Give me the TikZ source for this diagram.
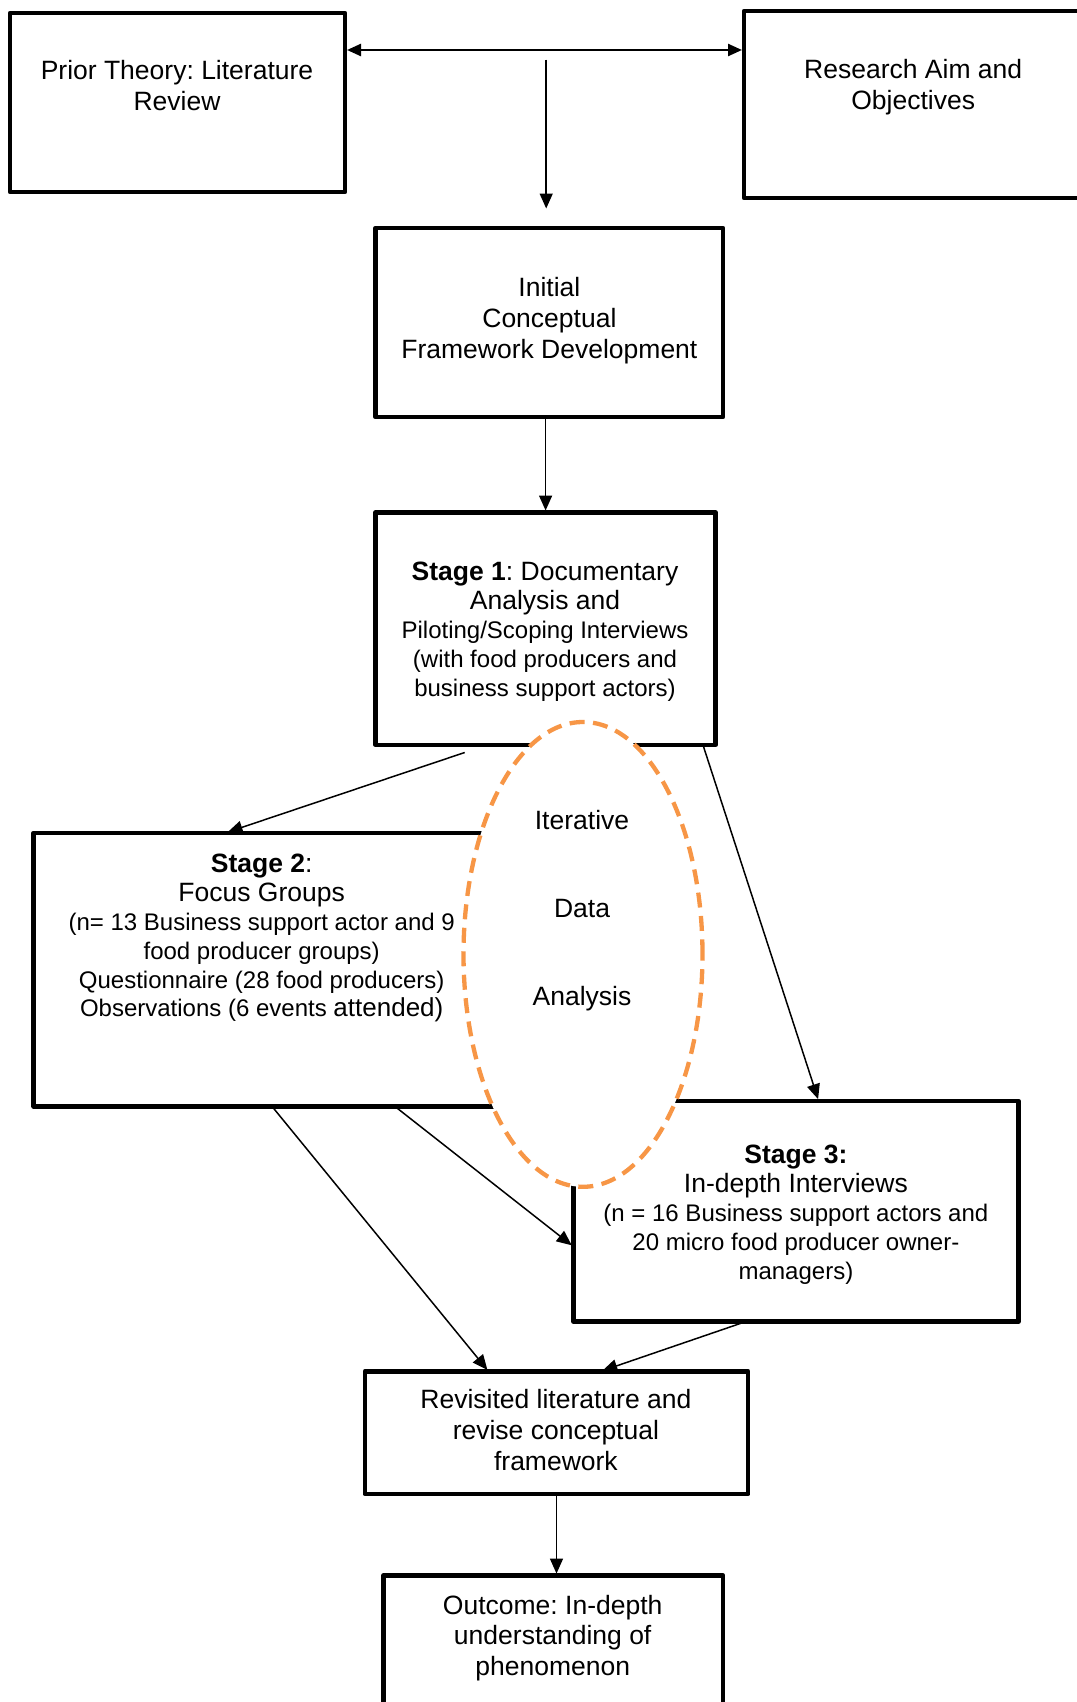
\documentclass[tikz,border=0pt]{standalone}
\usepackage{fontspec}
\setmainfont{Liberation Sans}
\usetikzlibrary{arrows.meta,calc,shapes.geometric}
\frenchspacing

\begin{document}
\begin{tikzpicture}[x=1pt,y=-1pt,
  box/.style={draw=black,line width=4.6pt,line join=round,fill=white,
    inner sep=0pt,outer sep=0pt},
  txt/.style={align=center,inner sep=0pt,
    font=\fontsize{26.5}{30.4}\selectfont},
  arr/.style={line width=1.5pt,-{Triangle[length=15pt,width=13pt]},shorten >=2pt},
  dblarr/.style={line width=2.4pt,{Triangle[length=14pt,width=12pt]}-{Triangle[length=14pt,width=12pt]},
    shorten >=2pt,shorten <=2pt},
  loop/.style={ellipse,draw=iterorange,fill=white,line width=4.3pt,
    dash pattern=on 15pt off 8.5pt,inner sep=0pt,outer sep=0pt}
]
\definecolor{iterorange}{HTML}{F79646}
\useasboundingbox (0,0) rectangle (1076,1702);

% boxes
\node[box,minimum width=335pt,minimum height=179pt]   (prior) at (177.5,102.5) {};
\node[box,minimum width=351pt,minimum height=187pt]   (aim)   at (919.5,104.5) {};
\node[box,minimum width=347.4pt,minimum height=189pt] (init)  at (549.4,322.5) {};
\node[box,minimum width=339.8pt,minimum height=232.4pt] (s1)  at (545.6,628.7) {};
\node[box,minimum width=506.3pt,minimum height=273.6pt] (s2)  at (286.9,969.6) {};
\node[box,minimum width=445.2pt,minimum height=220.4pt] (s3)  at (795.9,1211.2) {};
\node[box,minimum width=383.3pt,minimum height=122.6pt] (rev) at (556.5,1432.7) {};
\node[box,minimum width=339.8pt,minimum height=154.5pt] (out) at (553.2,1652.8) {};

% iterative analysis loop, laid over the stage boxes
\node[loop,minimum width=239pt,minimum height=464.8pt] (iter) at (583,954.4) {};

% box texts
\node[txt] (priorT) at (177,85.7) {Prior Theory: Literature\\Review};
\node[txt] (aimT) at (913.2,87.3) {Research Aim and\\Objectives};
\node[txt,font=\fontsize{26.5}{31}\selectfont] (initT) at (549.4,320.2)
  {Initial\\Conceptual\\Framework Development};
\node[txt,font=\fontsize{26.5}{29}\selectfont] (s1T) at (545,632.2)
  {\textbf{Stage 1}: Documentary\\Analysis and\\
   {\fontsize{24}{29}\selectfont Piloting/Scoping Interviews}\\
   {\fontsize{24}{29}\selectfont (with food producers and}\\
   {\fontsize{24}{29}\selectfont business support actors)}};
\node[txt,font=\fontsize{26.5}{28.8}\selectfont] (s2T) at (261.7,938.4)
  {\textbf{Stage 2}:\\Focus Groups\\
   {\fontsize{24}{28.8}\selectfont (n= 13 Business support actor and 9}\\
   {\fontsize{24}{28.8}\selectfont food producer groups)}\\
   {\fontsize{24}{28.8}\selectfont Questionnaire (28 food producers)}\\
   {\fontsize{24}{28.8}\selectfont Observations (6 events }{\fontsize{26}{28.8}\selectfont attended)}};
\node[txt,font=\fontsize{26.5}{28.8}\selectfont] (s3T) at (795.9,1214.8)
  {\textbf{Stage 3:}\\In-depth Interviews\\
   {\fontsize{24}{28.8}\selectfont (n = 16 Business support actors and}\\
   {\fontsize{24}{28.8}\selectfont 20 micro food producer owner-}\\
   {\fontsize{24}{28.8}\selectfont managers)}};
\node[txt,font=\fontsize{26.5}{31}\selectfont] (revT) at (555.9,1430.4)
  {Revisited literature and\\revise conceptual\\framework};
\node[txt] (outT) at (552.7,1637.9)
  {Outcome: In-depth\\understanding of\\phenomenon};
\node[txt,font=\fontsize{26.5}{88}\selectfont] (iterT) at (582,910.4)
  {Iterative\\Data\\Analysis};

% connectors
\coordinate (split) at (546.2,59.7);
\coordinate (initIn) at ($(init.north)+(-3.2,-19.5)$);
\draw[dblarr] ($(prior.north east)+(0,37)$) -- ($(aim.north west)+(0,39)$);
\draw[arr,shorten >=0pt] (split) -- (initIn);
\draw[arr] (s1.north |- init.south) -- (s1.north);
\draw[arr] ($(s1.south west)+(89,7.6)$) -- ($(s2.north west)+(192,0)$);
\draw[arr] ($(s1.south east)+(-11.9,2)$) -- ($(s3.north west)+(245.4,0)$);
\draw[arr] ($(s2.south west)+(239.9,2)$) -- ($(rev.north west)+(123.8,0)$);
\draw[arr] ($(s2.south west)+(363.7,2)$) -- ($(s3.north west)+(0,145.5)$);
\draw[arr] ($(s3.south west)+(167.2,2)$) -- ($(rev.north west)+(235.6,0)$);
\draw[arr] (rev.south) -- (rev.south |- out.north);
\end{tikzpicture}
\end{document}
